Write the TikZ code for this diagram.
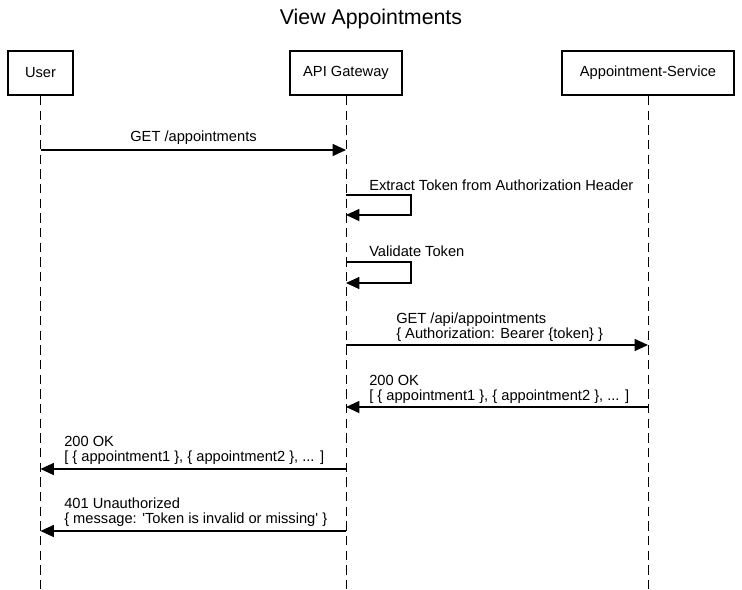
\documentclass[tikz,border=0pt]{standalone}
\usepackage{fontspec}
\setmainfont{Liberation Sans}
\usetikzlibrary{arrows.meta,positioning}

\begin{document}
\begin{tikzpicture}[x=0.75pt,y=-0.75pt,>={Triangle[length=10pt,width=9pt]},
        actor/.style={draw,line width=1.5pt,minimum height=33pt,inner sep=0pt,
          font=\fontsize{11}{13}\selectfont},
        life/.style={dash pattern=on 7pt off 4pt,line width=0.75pt},
        msg/.style={->,line width=0.9pt},
        lbl/.style={inner sep=0pt,align=left,anchor=west,
          font=\fontsize{11}{11.5}\selectfont}]

  \useasboundingbox (0,0) rectangle (742,589);

  \node[font=\fontsize{16}{18}\selectfont] (title) at (371,19) {View Appointments};

  % participants
  \node[actor,minimum width=48.75pt] (user) at (40.5,73) {User};
  \node[actor,minimum width=84pt] (gw) at (346,73) {API Gateway};
  \node[actor,minimum width=129pt] (svc) at (648,73) {Appointment-Service};

  \coordinate (user_end) at (40.5,589);
  \coordinate (gw_end) at (346,589);
  \coordinate (svc_end) at (648,589);

  \draw[life] (user) -- (user_end);
  \draw[life] (gw) -- (gw_end);
  \draw[life] (svc) -- (svc_end);

  % message points on the lifelines
  \coordinate (u_1) at (40.5,150);   \coordinate (g_1) at (346,150);
  \coordinate (g_2a) at (346,195);   \coordinate (g_2b) at (346,215);
  \coordinate (g_3a) at (346,262);   \coordinate (g_3b) at (346,283);
  \coordinate (g_4) at (346,345);    \coordinate (s_4) at (648,345);
  \coordinate (s_5) at (648,407);    \coordinate (g_5) at (346,407);
  \coordinate (g_6) at (346,469);    \coordinate (u_6) at (40.5,469);
  \coordinate (g_7) at (346,531);    \coordinate (u_7) at (40.5,531);

  \draw[msg] (u_1) -- (g_1);
  \node[lbl,anchor=center] (l_1) at (193.5,138) {GET /appointments};

  \draw[msg] (g_2a) -- ++(65,0) |- (g_2b);
  \node[lbl] (l_2) at (369,185) {Extract Token from Authorization Header};

  \draw[msg] (g_3a) -- ++(65,0) |- (g_3b);
  \node[lbl] (l_3) at (369,251) {Validate Token};

  \draw[msg] (g_4) -- (s_4);
  \node[lbl] (l_4) at (396,327) {GET /api/appointments\\\{ Authorization: Bearer \{token\} \}};

  \draw[msg] (s_5) -- (g_5);
  \node[lbl] (l_5) at (369,389.5) {200 OK\\{}[ \{ appointment1 \}, \{ appointment2 \}, ... ]};

  \draw[msg] (g_6) -- (u_6);
  \node[lbl] (l_6) at (64,450.5) {200 OK\\{}[ \{ appointment1 \}, \{ appointment2 \}, ... ]};

  \draw[msg] (g_7) -- (u_7);
  \node[lbl] (l_7) at (64,512.5) {401 Unauthorized\\\{ message: \textquotesingle Token is invalid or missing\textquotesingle\ \}};

\end{tikzpicture}
\end{document}
